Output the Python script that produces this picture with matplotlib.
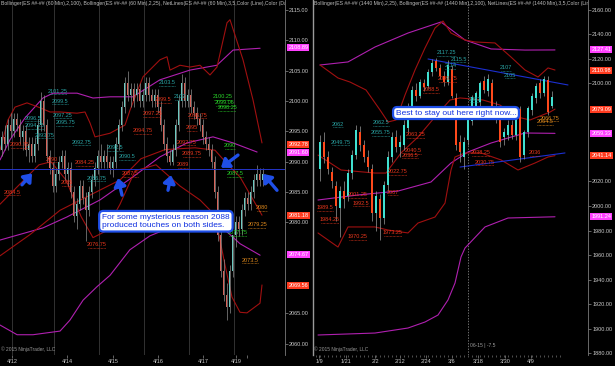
import matplotlib
matplotlib.use('Agg')
import matplotlib.pyplot as plt
import numpy as np

plt.rcParams['font.family'] = ['Liberation Sans', 'DejaVu Sans']

# ---------------- LEFT PANEL (60 min) ----------------
candles_1h = [
    (2092, 2095, 2091, 2094), (2094, 2096, 2092, 2093), (2093, 2097, 2092, 2096), (2096, 2098, 2094, 2095),
    (2095, 2098, 2094, 2097), (2097, 2098, 2095, 2096), (2096, 2097, 2093, 2094), (2094, 2096, 2092, 2095),
    (2095, 2096, 2091, 2092), (2092, 2094, 2090, 2093), (2093, 2094, 2090, 2091), (2091, 2094, 2090, 2093),
    (2093, 2097, 2092, 2096), (2096, 2101.5, 2095, 2100), (2100, 2101, 2095, 2096), (2096, 2097, 2090, 2091),
    (2091, 2092, 2088, 2089), (2089, 2090, 2085, 2086), (2086, 2089, 2085, 2088), (2088, 2091, 2087, 2090),
    (2090, 2092, 2089, 2091), (2091, 2092, 2087, 2088), (2088, 2090, 2086, 2089), (2089, 2090, 2084, 2085),
    (2085, 2086, 2080, 2081), (2081, 2084, 2079, 2083), (2083, 2087, 2082, 2086), (2086, 2087, 2083, 2084),
    (2084, 2085, 2077, 2082), (2082, 2086, 2081, 2085), (2085, 2088, 2084, 2087), (2087, 2090, 2086, 2089),
    (2089, 2092, 2088, 2091), (2091, 2093, 2089, 2090), (2090, 2092, 2089, 2091), (2091, 2093, 2089, 2090),
    (2090, 2091, 2088, 2089), (2089, 2091, 2087.5, 2090), (2090, 2094, 2089, 2093), (2093, 2097, 2092, 2096),
    (2096, 2100, 2095, 2099), (2099, 2104, 2098, 2103), (2103, 2105, 2100, 2101), (2101, 2103, 2099, 2102),
    (2102, 2103, 2099, 2100), (2101, 2103, 2100, 2102), (2102, 2103, 2099, 2100), (2100, 2102, 2099, 2101),
    (2101, 2104, 2100, 2103), (2103, 2104, 2100, 2101), (2101, 2102, 2099, 2100), (2100, 2102, 2099, 2101),
    (2101, 2102, 2098, 2099), (2099, 2100, 2095, 2096), (2096, 2097, 2092, 2093), (2093, 2094, 2090, 2091),
    (2091, 2092, 2089.5, 2090), (2090, 2093, 2089.5, 2092), (2092, 2097, 2091, 2096), (2096, 2101, 2095, 2100),
    (2100, 2104.5, 2099, 2103), (2103, 2104, 2099, 2100), (2100, 2102, 2099, 2101), (2101, 2102, 2098, 2099),
    (2099, 2100, 2097, 2098), (2098, 2099, 2096, 2097), (2097, 2098, 2095, 2096), (2096, 2097, 2093, 2094),
    (2094, 2095, 2092, 2093), (2093, 2094, 2091, 2092), (2092, 2093, 2089, 2090), (2090, 2091, 2084, 2085),
    (2085, 2086, 2077, 2078), (2078, 2080, 2071, 2072), (2072, 2074, 2067, 2068), (2068, 2070, 2064, 2066),
    (2066, 2073, 2065, 2072), (2072, 2078, 2071, 2078), (2078, 2081, 2076, 2080), (2080, 2081, 2077.75, 2079),
    (2079, 2083, 2078, 2082), (2082, 2085, 2081, 2084), (2084, 2085, 2082, 2083), (2083, 2086, 2082, 2085),
    (2085, 2088, 2084, 2087), (2087, 2089.5, 2086, 2088), (2088, 2089, 2086, 2087), (2087, 2089, 2086, 2088),
]

left_dates = ['4/12', '4/14', '4/15', '4/16', '4/17', '4/19', '']
left_date_pos = [4, 22.33, 37.67, 52.67, 67.67, 78.67, 82.33]
left_sessions = [4, 18, 33, 48, 63, 78]
left_yticks = [2115, 2110, 2105, 2100, 2095, 2090, 2085, 2080, 2065, 2060]

left_mag_upper = [(0, 2090.3), (3.3, 2093.6), (8.3, 2097.2), (14.3, 2100.5), (17.7, 2101.3), (25.7, 2101.3),
                  (31, 2100.5), (36.7, 2100.7), (44.3, 2100.7), (53.3, 2103.5), (63.3, 2105.1), (72.3, 2105.9),
                  (77.7, 2108.4), (86.7, 2108.7)]
left_mag_mid = [(0, 2077.1), (14.3, 2079.1), (22.3, 2080.9), (33.3, 2083.7), (44.3, 2087.5), (53.3, 2090.8),
                (62.3, 2093.1), (71, 2094.1), (77.7, 2093.1), (85.7, 2091.6)]
left_mag_lower = [(0, 2063.1), (5.7, 2061.5), (11, 2061.5), (20, 2062.1), (23.3, 2063.9), (27.7, 2067.2),
                  (32.3, 2069.4), (36.7, 2071.3), (43.3, 2075.5), (50, 2077.8), (60, 2079.8), (68, 2080.5),
                  (72, 2080.0), (76, 2078.3), (80, 2076.5), (86.7, 2074.6)]
left_red_upper = [(0, 2091.9), (2.67, 2096.9), (5, 2099.0), (9, 2099.7), (13.33, 2098.9), (16.67, 2098.2),
                  (20, 2098.2), (25.67, 2098.0), (28.33, 2098.2), (30, 2096.4), (31.67, 2094.1), (36.67, 2094.7),
                  (41.67, 2096.05), (43.33, 2098.5), (47.67, 2104.0), (53.33, 2106.8), (55.67, 2107.3),
                  (56.67, 2105.1), (60, 2105.9), (63.33, 2105.6), (66.67, 2105.9), (70, 2104.3), (72.33, 2105.6),
                  (75.67, 2112.9), (76.67, 2113.4), (81, 2106.8), (84.33, 2100.2), (87.33, 2093.1)]
left_red_mid = [(0, 2074.5), (10, 2078.0), (20, 2082.0), (30, 2084.5), (40, 2087.0), (47, 2090.5),
                (55, 2092.0), (65, 2092.3), (71.67, 2091.9), (76, 2089.5), (80, 2087.5), (87.33, 2081.2)]
left_red_lower = [(0, 2083.0), (6, 2086.0), (13, 2089.5), (17, 2090.0), (22, 2087.0), (27, 2081.0),
                  (31, 2077.5), (35, 2078.5), (40, 2083.0), (45, 2088.5), (52, 2089.5), (60, 2086.0),
                  (66.67, 2083.7), (71.67, 2081.2), (75, 2073.0), (77.33, 2067.7), (80, 2065.2),
                  (82.33, 2065.1), (86.67, 2066.7), (87.33, 2069.7)]

left_labels = [
    ('2101.25', 19.3, 2101.65, 'teal'), ('2099.5', 20, 2100.0, 'teal'), ('2097.25', 21, 2097.7, 'teal'),
    ('2095.75', 21.7, 2096.4, 'teal'), ('2096.5', 11, 2097.2, 'teal'), ('2094.25', 11.7, 2095.9, 'teal'),
    ('2093.75', 15, 2094.4, 'teal'), ('2092.75', 27.3, 2093.25, 'teal'), ('2090.5', 42.3, 2090.9, 'teal'),
    ('2092.5', 38.3, 2092.4, 'teal'), ('2086.75', 32.3, 2087.3, 'teal'), ('2103.5', 55.7, 2103.0, 'teal'),
    ('2102', 60, 2100.7, 'teal'),
    ('2090.75', 6.7, 2092.8, 'red'), ('2090', 17.3, 2090.45, 'red'), ('2085', 22.3, 2086.5, 'red'),
    ('2084.5', 4, 2085.0, 'red'), ('2084.25', 28.3, 2089.8, 'red'), ('2076.75', 32.3, 2076.3, 'red'),
    ('2087.5', 43.3, 2088.1, 'red'), ('2094.75', 47.7, 2095.2, 'red'), ('2097.25', 50.7, 2097.9, 'red'),
    ('2099.5', 54.3, 2100.2, 'red'), ('2096.75', 66, 2097.7, 'red'), ('2095', 64, 2095.6, 'red'),
    ('2092.75', 62.3, 2093.25, 'red'), ('2089.75', 64, 2091.4, 'red'), ('2089', 61, 2089.5, 'red'),
    ('2100.25', 74.3, 2100.7, 'green'), ('2099.06', 75, 2099.8, 'green'), ('2098.25', 75.7, 2098.9, 'green'),
    ('2090', 76.7, 2092.6, 'green'), ('2087.5', 78.3, 2088.1, 'green'), ('2077.75', 79.3, 2078.3, 'green'),
    ('2080', 87.3, 2082.5, 'orange'), ('2079.25', 85.7, 2079.7, 'orange'), ('2073.5', 83.3, 2073.8, 'orange'),
]
left_tags = [(2108.89, 'm'), (2092.78, 'r'), (2091.60, 'm'), (2081.18, 'r'), (2074.67, 'm'), (2069.56, 'r')]
left_level = 2088.8
left_arrows = [((7.33, 2086.2), (10.67, 2088.1)), ((40.67, 2084.5), (39.33, 2087.3)),
               ((56, 2085.3), (57, 2087.8)), ((79.33, 2091.1), (73.67, 2089.0)),
               ((92.33, 2085.3), (87.67, 2088.0))]

# ---------------- RIGHT PANEL (daily) ----------------
candles_1d = [
    (2030, 2058, 2020, 2052), (2052, 2060, 2035, 2040), (2040, 2045, 2026, 2030), (2028, 2032, 2015, 2020),
    (2016, 2020, 1988, 2000), (1998, 2016, 1975, 2012), (2012, 2020, 1998, 2006), (2008, 2030, 2004, 2027),
    (2027, 2046, 2022, 2042), (2042, 2066, 2038, 2062), (2060, 2065, 2045, 2050), (2050, 2054, 2036, 2040),
    (2040, 2046, 2028, 2032), (2030, 2034, 1988, 1994), (1994, 2012, 1980, 2008), (2006, 2010, 1972, 1990),
    (1990, 2020, 1985, 2017), (2017, 2045, 2012, 2040), (2040, 2060, 2036, 2056), (2056, 2062, 2044, 2048),
    (2048, 2058, 2040, 2052), (2050, 2070, 2046, 2066), (2064, 2084, 2060, 2081), (2082, 2098, 2078, 2095),
    (2095, 2100, 2086, 2090), (2090, 2104, 2088, 2101), (2100, 2104, 2094, 2097), (2098, 2112, 2096, 2109),
    (2109, 2120, 2106, 2117), (2118, 2121, 2110, 2113), (2113, 2116, 2104, 2106), (2106, 2110, 2098, 2101),
    (2101, 2119, 2099, 2115), (2112, 2115, 2088, 2090), (2088, 2092, 2046, 2050), (2052, 2058, 2036, 2044),
    (2040, 2056, 2030, 2052), (2054, 2072, 2050, 2070), (2069, 2091, 2066, 2089), (2082, 2094, 2078, 2092),
    (2085, 2102, 2082, 2100), (2102, 2106, 2092, 2095), (2094, 2108, 2090, 2104), (2100, 2104, 2080, 2082),
    (2082, 2086, 2068, 2072), (2072, 2075, 2048, 2052), (2056, 2064, 2050, 2060), (2058, 2070, 2054, 2066),
    (2066, 2070, 2055, 2058), (2058, 2078, 2054, 2074), (2079, 2082, 2036, 2040), (2042, 2062, 2038, 2060),
    (2060, 2082, 2056, 2080), (2078, 2092, 2074, 2090), (2088, 2100, 2084, 2098), (2100, 2104, 2088, 2092),
    (2092, 2106, 2090, 2104), (2103, 2106, 2074, 2077), (2082, 2094, 2080, 2089),
]
right_dates = ['1/9', '1/21', '2/2', '2/12', '2/24', '3/6', '3/18', '3/30', '4/9']
right_date_pos = [-0.25, 6.5, 13.75, 20, 26.5, 33, 39.5, 46.25, 52.75]
right_yticks = [2160, 2140, 2120, 2100, 2020, 2000, 1980, 1960, 1940, 1920, 1900, 1880]

right_mag_upper = [(0, 2115.1), (7, 2117.6), (13.75, 2129.8), (22, 2141.2), (30.25, 2150.2), (36.25, 2135.5),
                   (42.75, 2128.2), (51.25, 2127.3), (58.75, 2127.4)]
right_mag_mid = [(-0.5, 2004.9), (9.5, 2009.0), (19.5, 2012.2), (27.75, 2019.6), (32.75, 2035.1), (37, 2044.1),
                 (42.75, 2051.4), (51.25, 2059.6), (58.75, 2059.3)]
right_mag_lower = [(-0.5, 1894.7), (13.75, 1896.3), (22, 1900.4), (26.25, 1905.3), (29.5, 1911.0), (32, 1923.3),
                   (33.75, 1937.1), (35.25, 1958.4), (36.25, 1965.7), (41.25, 1982.9), (47, 1990.2),
                   (58.75, 1991.2)]
right_red_upper = [(0, 2115.1), (4.5, 2104.5), (7.5, 2101.2), (11.5, 2094.7), (15, 2078.4), (17, 2068.6),
                   (19, 2070.2), (21.25, 2090.6), (23.75, 2111.0), (26.25, 2129.0), (28.75, 2145.3),
                   (30.75, 2151.0), (32.75, 2141.2), (36.25, 2135.5), (38.75, 2133.9), (43.75, 2133.1),
                   (47.75, 2121.6), (51.25, 2111.0), (54.5, 2105.3), (57, 2112.7), (58.75, 2111.0)]
right_red_mid = [(-0.5, 2041.6), (5.25, 2029.4), (13.75, 2026.9), (16.5, 2026.9), (20.25, 2043.3),
                 (24.5, 2056.3), (28.75, 2072.7), (32.5, 2086.5), (35, 2088.2), (40.75, 2086.5), (45, 2082.4),
                 (49.25, 2072.7), (52.5, 2070.2), (57.5, 2076.7), (58.75, 2079.1)]
right_red_lower = [(-0.5, 1978.0), (4.5, 1966.5), (7, 1982.9), (13.75, 1982.9), (17, 1980.4), (22, 1978.0),
                   (24.5, 1986.1), (28.75, 1991.0), (31.25, 2002.4), (32.75, 2029.4), (33.75, 2040.0),
                   (36.25, 2043.3), (40.25, 2043.3), (45.25, 2037.6), (49.5, 2029.4), (53.75, 2035.1),
                   (57, 2040.0), (58.75, 2041.1)]
right_trend_upper = [(27, 2120.0), (62, 2098.8)]
right_trend_lower = [(35, 2031.8), (61.25, 2043.3)]

right_labels = [
    ('2117.25', 31.6, 2125.0, 'teal'), ('2115.5', 34.6, 2119.8, 'teal'), ('2114', 32.6, 2114.6, 'teal'),
    ('2107', 46.5, 2112.7, 'teal'), ('2105', 47.5, 2106.9, 'teal'), ('2082', 38.75, 2087.3, 'teal'),
    ('2062', 4.5, 2066.9, 'teal'), ('2062.5', 15.25, 2067.8, 'teal'), ('2055.75', 15.25, 2059.6, 'teal'),
    ('2049.75', 5.25, 2052.2, 'teal'),
    ('2099.75', 32, 2103.7, 'red'), ('2088.5', 27.75, 2094.7, 'red'), ('2063.25', 24, 2058.0, 'red'),
    ('2040.5', 23.25, 2044.9, 'red'), ('2036.5', 22.5, 2041.6, 'red'), ('2022.75', 19.5, 2027.8, 'red'),
    ('2007', 18.25, 2011.4, 'red'), ('2001.25', 9.5, 2009.0, 'red'), ('1992.5', 10.25, 2002.4, 'red'),
    ('1989.5', 1.25, 1998.4, 'red'), ('1984.25', 2.5, 1988.6, 'red'), ('1970.25', 9.5, 1974.7, 'red'),
    ('1973.25', 18.25, 1978.0, 'red'), ('2038.25', 40.25, 2043.3, 'red'), ('2030.75', 41.25, 2035.9, 'red'),
    ('2036', 53.75, 2043.3, 'red'),
    ('2066.75', 57.5, 2071.8, 'orange'), ('2064.5', 56.25, 2068.6, 'orange'),
]
right_tags = [(2127.41, 'm'), (2110.98, 'r'), (2079.09, 'r'), (2059.33, 'm'), (2041.14, 'r'), (1991.24, 'm')]

# ---------------- STYLE ----------------
COL = {'teal': '#2aa6a6', 'red': '#e8361c', 'green': '#29d729', 'orange': '#e08a1c'}
TAG = {'m': '#ff40ff', 'r': '#ff3b1f'}
RED_LINE = '#a01010'
MAG_LINE = '#b020b0'
BLUE = '#1f4fe8'

fig = plt.figure(figsize=(6.15, 3.66), dpi=100, facecolor='black')
axL = fig.add_axes([0, 11 / 366, 285 / 615, 355 / 366])
axR = fig.add_axes([313 / 615, 11 / 366, 275 / 615, 355 / 366])

for ax in (axL, axR):
    ax.set_facecolor('black')
    for s in ['top', 'left', 'bottom']:
        ax.spines[s].set_visible(False)
    ax.spines['right'].set_color('#7a7a7a')
    ax.spines['right'].set_linewidth(0.6)
    ax.yaxis.tick_right()
    ax.tick_params(axis='both', colors='#c8c8c8', labelsize=4, length=2, width=0.5, pad=1)
    ax.tick_params(axis='both', which='both', color='#8a8a8a')

axL.set_xlim(0, 95)
axL.set_ylim(2058.16, 2116.65)
axR.set_xlim(-1.75, 67)
axR.set_ylim(1878.37, 2168.16)


def draw_candles(ax, candles, width, up, dn, wick, x0):
    arr = np.array(candles, dtype=float)
    o, h, l, c = arr.T
    xs = np.arange(len(arr)) + x0
    ax.vlines(xs, l, h, color=wick, lw=0.5, zorder=3)
    colors = np.where(c >= o, up, dn)
    hgt = np.abs(c - o)
    ax.bar(xs, np.where(hgt == 0, 0.2, hgt), bottom=np.minimum(o, c), width=width, color=colors,
           zorder=4, linewidth=0)


def draw_line(ax, pts, color, lw=0.8):
    p = np.array(pts)
    ax.plot(p[:, 0], p[:, 1], color=color, lw=lw, zorder=2, solid_capstyle='round')


def draw_labels(ax, labels, charw, drop):
    for txt, x, y, c in labels:
        ax.text(x, y, txt, color=COL[c], fontsize=4, ha='center', va='center', zorder=6)
        w = len(txt) * charw
        ax.hlines(y - drop, x - w / 2, x + w / 2, color=COL[c], lw=0.5, linestyles=(0, (1, 1)), zorder=6)


def draw_tags(ax, tags):
    for v, kind in tags:
        ax.text(1.012, v, f'{v:.2f}', transform=ax.get_yaxis_transform(), fontsize=4, color='white',
                ha='left', va='center', clip_on=False, zorder=10,
                bbox=dict(boxstyle='square,pad=0.18', fc=TAG[kind], ec='none'))


# ----- left panel -----
for s in left_sessions:
    axL.axvline(s, color='#3a3a3a', lw=0.6, zorder=1)
draw_line(axL, left_mag_upper, MAG_LINE)
draw_line(axL, left_mag_mid, MAG_LINE)
draw_line(axL, left_mag_lower, MAG_LINE)
draw_line(axL, left_red_upper, RED_LINE)
draw_line(axL, left_red_mid, RED_LINE)
draw_line(axL, left_red_lower, RED_LINE)
draw_candles(axL, candles_1h, 0.6, '#6cc9c0', '#d8645a', '#8c8c8c', 0.5)
axL.axhline(left_level, color='#2434c8', lw=0.7, zorder=5)
draw_labels(axL, left_labels, 0.85, 0.55)
for tail, head in left_arrows:
    axL.annotate('', xy=head, xytext=tail, zorder=9,
                 arrowprops=dict(arrowstyle='-|>,head_width=0.35,head_length=0.45', color=BLUE, lw=2.4,
                                 shrinkA=0, shrinkB=0))
axL.text(55.3, 2080.2, 'For some mysterious reason 2088\nproduced touches on both sides.',
         color='#1030e0', fontsize=6, ha='center', va='center', zorder=11, linespacing=1.15,
         multialignment='left',
         bbox=dict(boxstyle='round,pad=0.35,rounding_size=0.5', fc='white', ec=BLUE, lw=1.6))
axL.set_yticks(left_yticks)
axL.set_yticklabels([f'{v:.2f}' for v in left_yticks])
axL.set_xticks(left_date_pos)
axL.set_xticklabels(left_dates)
axL.text(0.3, 2116.0, 'Bollinger(ES ##-## (60 Min),2,100), Bollinger(ES ##-## (60 Min),2,25), '
         'NetLines(ES ##-## (60 Min),3,5,Color (Line),Color (Da', color='#bdbdbd', fontsize=3.7,
         ha='left', va='center', zorder=8, clip_on=True)
axL.text(0.3, 2058.6, '© 2015 NinjaTrader, LLC', color='#9a9a9a', fontsize=3.5, ha='left', va='bottom')
draw_tags(axL, left_tags)

# ----- right panel -----
axR.spines['left'].set_visible(True)
axR.spines['left'].set_color('#9a9a9a')
axR.spines['left'].set_linewidth(1.0)
axR.axvline(37, color='#9a9a9a', lw=0.5, ls=(0, (2, 2)), zorder=1)
draw_line(axR, right_mag_upper, MAG_LINE)
draw_line(axR, right_mag_mid, MAG_LINE)
draw_line(axR, right_mag_lower, MAG_LINE)
draw_line(axR, right_red_upper, RED_LINE)
draw_line(axR, right_red_mid, RED_LINE)
draw_line(axR, right_red_lower, RED_LINE)
draw_line(axR, right_trend_upper, '#1c2fd0', 0.8)
draw_line(axR, right_trend_lower, '#1c2fd0', 0.8)
draw_candles(axR, candles_1d, 0.7, '#40e0d0', '#ff4a1c', '#9a9a9a', 0)
draw_labels(axR, right_labels, 0.65, 2.6)
axR.text(34, 2075.9, 'Best to stay out here right now...', color='#1030e0', fontsize=6, ha='center',
         va='center', zorder=11,
         bbox=dict(boxstyle='round,pad=0.3,rounding_size=0.5', fc='white', ec=BLUE, lw=1.6))
axR.set_yticks(right_yticks)
axR.set_yticklabels([f'{v:.2f}' for v in right_yticks])
axR.set_xticks(right_date_pos)
axR.set_xticklabels(right_dates)
axR.set_xticks(np.arange(-1, 61), minor=True)
axR.tick_params(axis='x', which='minor', length=1.5, width=0.4)
axR.text(-1.4, 2165.5, 'Bollinger(ES ##-## (1440 Min),2,25), Bollinger(ES ##-## (1440 Min),2,100), '
         'NetLines(ES ##-## (1440 Min),3,5,Color (Lin', color='#bdbdbd', fontsize=3.7,
         ha='left', va='center', zorder=8, clip_on=True)
axR.text(37.4, 1886.5, '06-15 | -7.5', color='#9a9a9a', fontsize=3.6, ha='left', va='center')
axR.text(-1.4, 1880.5, '© 2015 NinjaTrader, LLC', color='#9a9a9a', fontsize=3.5, ha='left', va='bottom')
draw_tags(axR, right_tags)

fig.savefig('out.png', dpi=100, facecolor='black')
